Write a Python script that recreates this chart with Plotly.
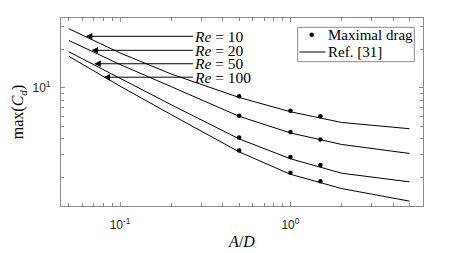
import math
import plotly.graph_objects as go

# Reference curves (Ref. [31])
ad_ref = [0.05, 0.1, 0.2, 0.5, 1.0, 2.0, 5.0]
cd_ref_re10 = [28.9, 18.7, 12.8, 8.41, 6.51, 5.37, 4.80]
cd_ref_re20 = [23.4, 15.2, 10.2, 6.00, 4.45, 3.62, 3.08]
cd_ref_re50 = [19.1, 11.8, 7.37, 4.00, 2.80, 2.16, 1.85]
cd_ref_re100 = [17.6, 10.3, 6.17, 3.17, 2.12, 1.64, 1.31]

# Maximal drag (simulation points)
ad_sim = [0.5, 1.0, 1.5]
cd_sim_re10 = [8.60, 6.62, 6.01]
cd_sim_re20 = [6.06, 4.52, 3.96]
cd_sim_re50 = [4.11, 2.89, 2.50]
cd_sim_re100 = [3.25, 2.18, 1.87]

# Re annotations
re_labels = ["<i>Re</i> = 10", "<i>Re</i> = 20", "<i>Re</i> = 50", "<i>Re</i> = 100"]
arrow_ad = [0.063, 0.068, 0.0705, 0.080]
arrow_cd = [25.2, 19.6, 15.4, 12.1]
label_ad = 0.268

# Legend texts
legend_labels = ["Maximal drag", "Ref. [31]"]

# Axis ticks
x_tickvals = [0.1, 1.0]
x_ticktext = ["10<sup>-1</sup>", "10<sup>0</sup>"]
x_minor = [0.05, 0.06, 0.07, 0.08, 0.09, 0.2, 0.3, 0.4, 0.5, 0.6, 0.7, 0.8, 0.9, 2, 3, 4, 5, 6]
y_tickvals = [10]
y_ticktext = ["10<sup>1</sup>"]
y_minor = [2, 3, 4, 5, 6, 7, 8, 9, 20, 30]

SERIF = "Liberation Serif"
SANS = "Liberation Sans"
AXC = "#8a8a8a"

fig = go.Figure()

ref_sets = [cd_ref_re10, cd_ref_re20, cd_ref_re50, cd_ref_re100]
sim_sets = [cd_sim_re10, cd_sim_re20, cd_sim_re50, cd_sim_re100]

for i, cd in enumerate(sim_sets):
    fig.add_trace(go.Scatter(
        x=ad_sim, y=cd, mode="markers",
        marker=dict(color="black", size=4.5),
        name=legend_labels[0], showlegend=False,
    ))
for i, cd in enumerate(ref_sets):
    fig.add_trace(go.Scatter(
        x=ad_ref, y=cd, mode="lines",
        line=dict(color="black", width=1),
        name=legend_labels[1], showlegend=False,
    ))

for lab, xa, ya in zip(re_labels, arrow_ad, arrow_cd):
    fig.add_annotation(
        x=math.log10(xa), y=math.log10(ya),
        ax=math.log10(label_ad), ay=math.log10(ya),
        axref="x", ayref="y", xref="x", yref="y",
        text=lab, showarrow=True, arrowhead=2, arrowsize=1.3,
        arrowwidth=1, arrowcolor="black",
        xanchor="left", yanchor="middle",
        font=dict(family=SERIF, size=15.5, color="black"),
        borderpad=0,
    )

# Manual legend (plot area: x 61..423 px, y 18..206 px)
PL, PW, PT, PH = 61, 362, 18, 188
def px(x):
    return (x - PL) / PW
def py(y):
    return (PT + PH - y) / PH

fig.add_shape(type="rect", xref="paper", yref="paper",
              x0=px(297.7), x1=px(414.3), y0=py(61.7), y1=py(27.3),
              line=dict(color=AXC, width=1), fillcolor="white", layer="above")
fig.add_shape(type="circle", xref="paper", yref="paper",
              x0=px(311.7 - 2), x1=px(311.7 + 2), y0=py(34.8 + 2), y1=py(34.8 - 2),
              line=dict(color="black", width=0.5), fillcolor="black", layer="above")
fig.add_shape(type="line", xref="paper", yref="paper",
              x0=px(299.5), x1=px(325.5), y0=py(52), y1=py(52),
              line=dict(color="black", width=1), layer="above")
for lab, yy in zip(legend_labels, [34.8, 52]):
    fig.add_annotation(
        x=px(326.5), y=py(yy), xref="paper", yref="paper",
        text=lab, showarrow=False, xanchor="left", yanchor="middle",
        font=dict(family=SERIF, size=15, color="black"), borderpad=0,
    )

axis_common = dict(
    type="log", showline=True, linecolor=AXC, linewidth=1, mirror="ticks",
    ticks="inside", ticklen=4, tickcolor=AXC, tickwidth=1,
    showgrid=False, zeroline=False, automargin=False,
    tickfont=dict(family=SANS, size=12, color="#262626"),
)

fig.update_xaxes(
    **axis_common,
    range=[math.log10(0.045), math.log10(6)],
    tickmode="array", tickvals=x_tickvals, ticktext=x_ticktext,
    ticklabelstandoff=8,
    minor=dict(tickmode="array", tickvals=x_minor, ticks="inside", ticklen=3,
               tickcolor=AXC, tickwidth=1, showgrid=False),
    title=dict(text="<i>A</i>/<i>D</i>", font=dict(family=SERIF, size=16, color="black"), standoff=4),
)
fig.update_yaxes(
    **axis_common,
    range=[math.log10(1.2), math.log10(35)],
    tickmode="array", tickvals=y_tickvals, ticktext=y_ticktext,
    ticklabelstandoff=7,
    minor=dict(tickmode="array", tickvals=y_minor, ticks="inside", ticklen=3,
               tickcolor=AXC, tickwidth=1, showgrid=False),
    title=dict(text="max(<i>C<sub>d</sub></i>)", font=dict(family=SERIF, size=16, color="black"), standoff=4),
)

fig.update_layout(
    width=468, height=253,
    margin=dict(l=PL, r=468 - PL - PW, t=PT, b=253 - PT - PH),
    paper_bgcolor="white", plot_bgcolor="white",
    showlegend=False,
)

fig.write_html("out.html", config={"displayModeBar": False},
               post_script="document.body.style.margin='0px';")
